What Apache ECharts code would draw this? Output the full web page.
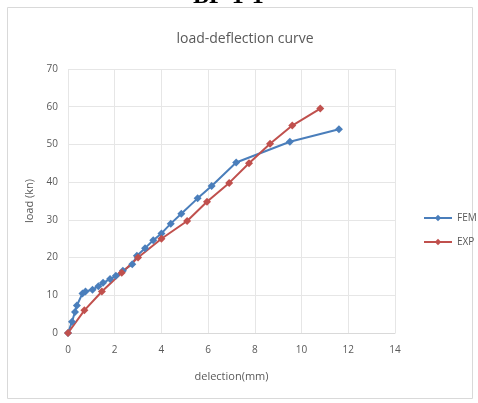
<!DOCTYPE html>
<html><head><meta charset="utf-8">
<script src="https://cdn.jsdelivr.net/npm/echarts@6/dist/echarts.min.js"></script>
<style>html,body{margin:0;padding:0;background:#fff}#c{width:478px;height:403px}</style>
</head><body><div id="c"></div>
<script>
var femX = [0,0.17,0.3,0.38,0.62,0.75,1.05,1.3,1.5,1.8,2.05,2.35,2.75,2.95,3.3,3.65,4.0,4.4,4.85,5.55,6.15,7.2,9.5,11.6];
var femY = [0,3,5.6,7.3,10.5,11,11.5,12.4,13.3,14.3,15.2,16.5,18.2,20.5,22.5,24.6,26.4,29,31.6,35.7,39,45.2,50.7,54];
var expX = [0,0.7,1.45,2.3,3.0,4.0,5.1,5.95,6.9,7.75,8.65,9.6,10.8];
var expY = [0,6,11,16,20,25,29.7,34.8,39.8,45,50.2,55,59.5];
var xTicks = [0,2,4,6,8,10,12,14];
var yTicks = [0,10,20,30,40,50,60,70];
function pairs(xs, ys){ return xs.map(function(x,i){return [x, ys[i]];}); }
var gray = '#595959';
var chart = echarts.init(document.getElementById('c'));
chart.setOption({
  animation:false,
  backgroundColor:'#fff',
  graphic:[
    {type:'rect', shape:{x:7.5,y:7.5,width:465,height:391}, style:{fill:'none', stroke:'#d9d9d9', lineWidth:1}},
    {type:'text', left:193, top:-15, style:{text:'BF-1-1', font:'bold 24px "Liberation Serif"', fill:'#000'}}
  ],
  title:{text:'load-deflection curve', left:240, top:27, textAlign:'center',
    textStyle:{fontFamily:'Open Sans', fontSize:14, fontWeight:'normal', color:gray}},
  legend:{orient:'vertical', left:418, top:208, itemGap:14, itemWidth:28, itemHeight:8,
    textStyle:{fontFamily:'Open Sans', fontSize:10, color:gray},
    data:['FEM','EXP']},
  grid:{left:68, right:83, top:69, bottom:70},
  xAxis:{type:'value', min:xTicks[0], max:xTicks[xTicks.length-1], interval:2,
    name:'delection(mm)', nameLocation:'middle', nameGap:38,
    nameTextStyle:{fontFamily:'Open Sans', fontSize:11, color:gray},
    axisLine:{lineStyle:{color:'#d9d9d9'}}, axisTick:{show:false},
    axisLabel:{fontFamily:'Open Sans', fontSize:10, color:gray, margin:12},
    splitLine:{show:true, lineStyle:{color:'#e6e6e6'}}},
  yAxis:{type:'value', min:yTicks[0], max:yTicks[yTicks.length-1], interval:10,
    name:'load (kn)', nameLocation:'middle', nameGap:32,
    nameTextStyle:{fontFamily:'Open Sans', fontSize:11, color:gray},
    axisLine:{show:false}, axisTick:{show:false},
    axisLabel:{fontFamily:'Open Sans', fontSize:10, color:gray, margin:10},
    splitLine:{show:true, lineStyle:{color:'#e6e6e6'}}},
  series:[
    {name:'FEM', type:'line', data:pairs(femX,femY), symbol:'diamond', symbolSize:8,
      color:'#4A7EBB', lineStyle:{width:2, color:'#4A7EBB'}, itemStyle:{color:'#4A7EBB'}},
    {name:'EXP', type:'line', data:pairs(expX,expY), symbol:'diamond', symbolSize:8,
      color:'#C0504D', lineStyle:{width:2, color:'#C0504D'}, itemStyle:{color:'#C0504D'}}
  ]
});
</script></body></html>
